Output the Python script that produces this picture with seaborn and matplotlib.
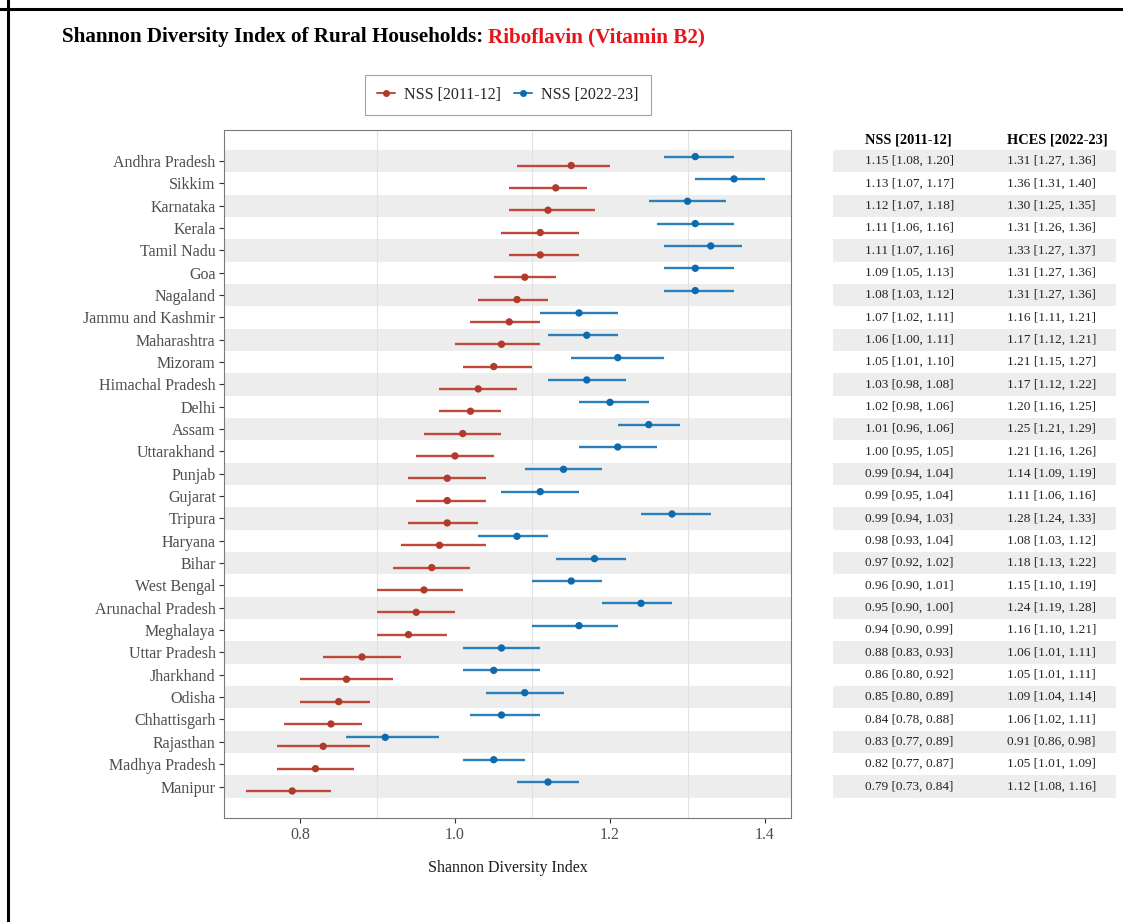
import numpy as np
import pandas as pd
import seaborn as sns
import matplotlib.pyplot as plt
from matplotlib.lines import Line2D

# state order as in the chart (top to bottom)
states = ["Andhra Pradesh", "Sikkim", "Karnataka", "Kerala", "Tamil Nadu", "Goa",
          "Nagaland", "Jammu and Kashmir", "Maharashtra", "Mizoram", "Himachal Pradesh",
          "Delhi", "Assam", "Uttarakhand", "Punjab", "Gujarat", "Tripura", "Haryana",
          "Bihar", "West Bengal", "Arunachal Pradesh", "Meghalaya", "Uttar Pradesh",
          "Jharkhand", "Odisha", "Chhattisgarh", "Rajasthan", "Madhya Pradesh", "Manipur"]

# NSS 2011-12: mean and 95% interval
nss_mean = [1.15, 1.13, 1.12, 1.11, 1.11, 1.09, 1.08, 1.07, 1.06, 1.05, 1.03, 1.02, 1.01, 1.00,
            0.99, 0.99, 0.99, 0.98, 0.97, 0.96, 0.95, 0.94, 0.88, 0.86, 0.85, 0.84, 0.83, 0.82, 0.79]
nss_lo = [1.08, 1.07, 1.07, 1.06, 1.07, 1.05, 1.03, 1.02, 1.00, 1.01, 0.98, 0.98, 0.96, 0.95,
          0.94, 0.95, 0.94, 0.93, 0.92, 0.90, 0.90, 0.90, 0.83, 0.80, 0.80, 0.78, 0.77, 0.77, 0.73]
nss_hi = [1.20, 1.17, 1.18, 1.16, 1.16, 1.13, 1.12, 1.11, 1.11, 1.10, 1.08, 1.06, 1.06, 1.05,
          1.04, 1.04, 1.03, 1.04, 1.02, 1.01, 1.00, 0.99, 0.93, 0.92, 0.89, 0.88, 0.89, 0.87, 0.84]

# HCES 2022-23: mean and 95% interval
hces_mean = [1.31, 1.36, 1.30, 1.31, 1.33, 1.31, 1.31, 1.16, 1.17, 1.21, 1.17, 1.20, 1.25, 1.21,
             1.14, 1.11, 1.28, 1.08, 1.18, 1.15, 1.24, 1.16, 1.06, 1.05, 1.09, 1.06, 0.91, 1.05, 1.12]
hces_lo = [1.27, 1.31, 1.25, 1.26, 1.27, 1.27, 1.27, 1.11, 1.12, 1.15, 1.12, 1.16, 1.21, 1.16,
           1.09, 1.06, 1.24, 1.03, 1.13, 1.10, 1.19, 1.10, 1.01, 1.01, 1.04, 1.02, 0.86, 1.01, 1.08]
hces_hi = [1.36, 1.40, 1.35, 1.36, 1.37, 1.36, 1.36, 1.21, 1.21, 1.27, 1.22, 1.25, 1.29, 1.26,
           1.19, 1.16, 1.33, 1.12, 1.22, 1.19, 1.28, 1.21, 1.11, 1.11, 1.14, 1.11, 0.98, 1.09, 1.16]

series_names = ["NSS [2011-12]", "NSS [2022-23]"]
table_headers = ["NSS [2011-12]", "HCES [2022-23]"]
x_ticks = [0.8, 1.0, 1.2, 1.4]

red_line, red_dot = "#c04a3a", "#b03a2b"
blue_line, blue_dot = "#2a80bd", "#0d6aad"

# long table for seaborn
pos = np.arange(len(states))
df = pd.concat([
    pd.DataFrame({"state": states, "survey": series_names[0], "mean": nss_mean,
                  "lo": nss_lo, "hi": nss_hi, "y": pos + 0.2}),
    pd.DataFrame({"state": states, "survey": series_names[1], "mean": hces_mean,
                  "lo": hces_lo, "hi": hces_hi, "y": pos - 0.2}),
], ignore_index=True)

sns.set_theme(style="white")
plt.rcParams["font.family"] = ["Liberation Serif", "DejaVu Serif"]

W, H = 1123, 922
fig = plt.figure(figsize=(W / 100, H / 100), dpi=100)
fig.patch.set_facecolor("white")

top, bottom = 130, 818
ax = fig.add_axes([224 / W, 1 - bottom / H, (791 - 224) / W, (bottom - top) / H])
tab = fig.add_axes([833 / W, 1 - bottom / H, (1116 - 833) / W, (bottom - top) / H])

ylim = (29.41, -1.39)

# alternating row bands
for i in pos:
    if i % 2 == 0:
        ax.axhspan(i - 0.5, i + 0.5, color="#ededed", lw=0, zorder=0)
        tab.axhspan(i - 0.5, i + 0.5, color="#ededed", lw=0, zorder=0)

for gx in [0.9, 1.1, 1.3]:
    ax.axvline(gx, color="#e2e2e2", lw=0.8, zorder=0.5)

# interval lines
palette_line = {series_names[0]: red_line, series_names[1]: blue_line}
for name, grp in df.groupby("survey"):
    ax.hlines(grp["y"], grp["lo"], grp["hi"], color=palette_line[name], lw=1.7, zorder=2)

sns.scatterplot(data=df, x="mean", y="y", hue="survey",
                palette={series_names[0]: red_dot, series_names[1]: blue_dot},
                s=28, edgecolor="none", legend=False, zorder=3, ax=ax)

ax.set_xlim(0.702, 1.4335)
ax.set_ylim(*ylim)
ax.set_yticks(pos)
ax.set_yticklabels(states)
ax.set_xticks(x_ticks)
ax.set_xticklabels([f"{t:.1f}" for t in x_ticks])
ax.set_ylabel("")
ax.set_xlabel("Shannon Diversity Index", fontsize=11.5, color="#1a1a1a", labelpad=12)
ax.tick_params(axis="both", which="both", length=3.5, width=0.8, color="#333333",
               labelcolor="#4d4d4d", labelsize=11.5, pad=2.5,
               left=True, bottom=True)
ax.tick_params(axis="x", pad=3)
for sp in ax.spines.values():
    sp.set_color("#7a7a7a")
    sp.set_linewidth(0.8)

# side table (left aligned columns)
tab.set_xlim(833, 1116)
tab.set_ylim(*ylim)
tab.axis("off")
col_x = [865, 1007]
for cx, head in zip(col_x, table_headers):
    tab.text(cx, -0.92, head, ha="left", va="center", fontsize=10.4,
             fontweight="bold", color="black")
for i in pos:
    tab.text(col_x[0], i, f"{nss_mean[i]:.2f} [{nss_lo[i]:.2f}, {nss_hi[i]:.2f}]",
             ha="left", va="center", fontsize=9.5, color="#222222")
    tab.text(col_x[1], i, f"{hces_mean[i]:.2f} [{hces_lo[i]:.2f}, {hces_hi[i]:.2f}]",
             ha="left", va="center", fontsize=9.5, color="#222222")

# legend
handles = [Line2D([0], [0], color=red_line, lw=1.4, marker="o", markersize=4,
                  markerfacecolor=red_dot, markeredgecolor=red_dot),
           Line2D([0], [0], color=blue_line, lw=1.4, marker="o", markersize=4,
                  markerfacecolor=blue_dot, markeredgecolor=blue_dot)]
leg = fig.legend(handles, series_names, loc="center", bbox_to_anchor=(508 / W, 1 - 95 / H),
                 ncol=2, frameon=True, fancybox=False, edgecolor="#8c8c8c",
                 fontsize=11.5, handlelength=1.1, handletextpad=0.6, columnspacing=0.8,
                 borderpad=0.75)
leg.get_frame().set_linewidth(0.8)

# two coloured title
t1 = fig.text(62 / W, 1 - 37 / H, "Shannon Diversity Index of Rural Households:",
              fontsize=15.2, fontweight="bold", color="black", va="center")
fig.canvas.draw()
bb = t1.get_window_extent(renderer=fig.canvas.get_renderer())
fig.text((bb.x1 + 5) / W, 1 - 37 / H, "Riboflavin (Vitamin B2)",
         fontsize=15.2, fontweight="bold", color="#e8131b", va="center")

# outer frame lines
fig.add_artist(Line2D([0, 1], [1 - 9 / H, 1 - 9 / H], color="black", lw=2.2,
                      transform=fig.transFigure))
fig.add_artist(Line2D([8 / W, 8 / W], [0, 1], color="black", lw=2.2,
                      transform=fig.transFigure))

plt.savefig("out.png", dpi=100)
